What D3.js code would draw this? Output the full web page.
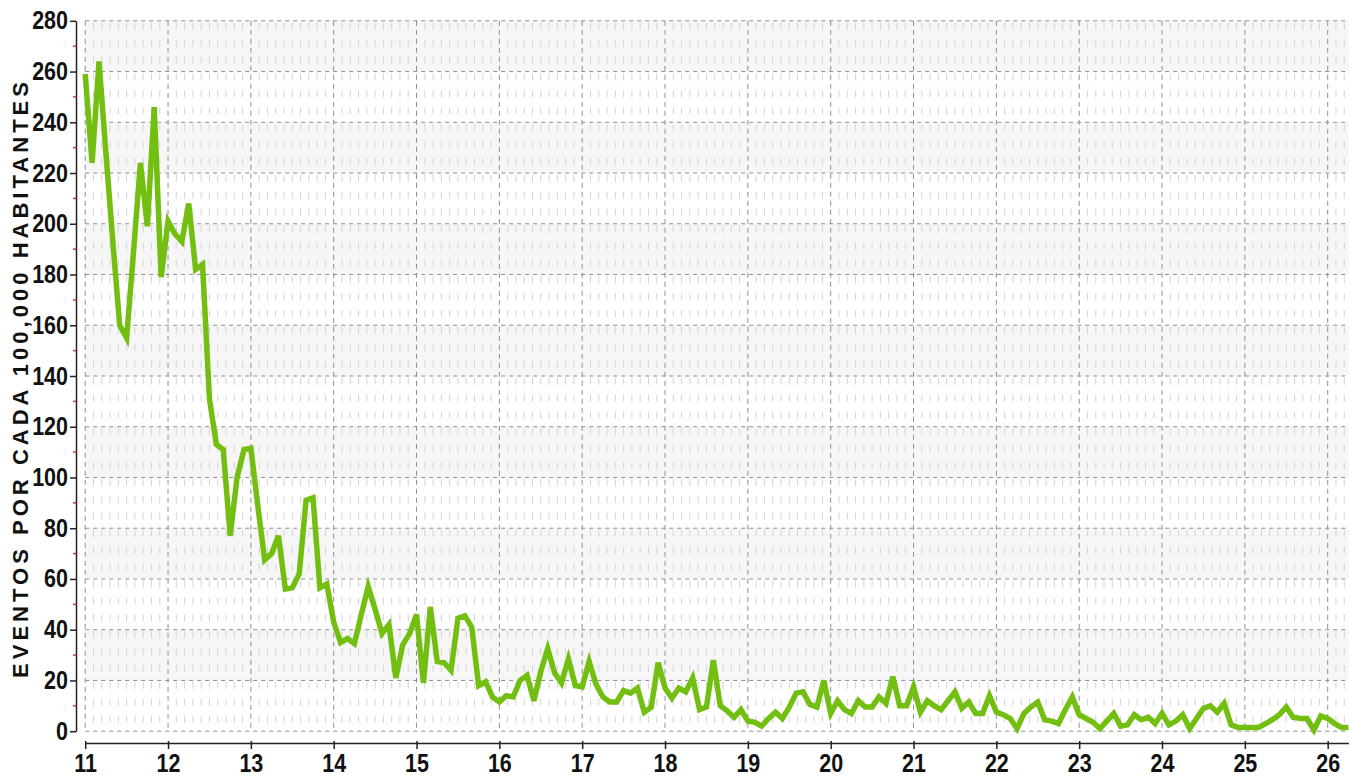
<!DOCTYPE html>
<html>
<head>
<meta charset="utf-8">
<script src="https://cdn.jsdelivr.net/npm/d3@7"></script>
<style>
  body { margin: 0; background: #fff; }
  .tick text { font-family: "Liberation Sans", Arial, sans-serif; font-weight: bold; font-size: 25px; fill: #111; }
</style>
</head>
<body>
<div id="chart"></div>
<script>
// monthly rate, first value = January of year 11
var startYear = 11;
var rates = [
  259, 224, 264, 228, 193, 160, 155, 189, 224, 199, 246, 179,
  201, 196, 193, 208, 182, 184, 131, 113, 111, 77, 100, 111,
  111.5, 89, 67.5, 70, 77, 56, 56.5, 62, 91, 92, 56.5, 58,
  43, 35, 36.5, 34.5, 46, 57, 48, 38.5, 42, 21, 34, 38.5,
  46, 19, 49, 27.5, 27, 24, 44.5, 45.5, 41, 18, 19.5, 13.5,
  11.5, 14, 13.5, 20, 22, 12, 23.5, 32.5, 23, 19, 28.5, 18,
  17.5, 27.5, 18.5, 13.5, 11.5, 11.5, 16, 15, 17, 7.5, 9.5, 27,
  17, 13, 17, 15.5, 21, 8.5, 9.5, 28, 10, 8, 5.5, 8.5,
  4, 3.5, 2, 5, 7.5, 5, 9.5, 15, 15.5, 10.5, 9.5, 20,
  7, 12, 8.5, 7, 12, 9.5, 9.5, 13.5, 11, 21.5, 10, 10,
  17.5, 7.5, 12, 10, 8.5, 12, 15.5, 9, 11.5, 7, 7, 14,
  7.5, 6.5, 5, 1, 7, 9.5, 11.5, 4.5, 4, 3, 8.5, 13.5,
  6.5, 5, 3.5, 1, 4, 7, 2, 2.5, 6.5, 4.5, 5.5, 3,
  7, 2.5, 4, 6.5, 1, 5, 9, 10, 7.5, 11, 2.5, 1.5,
  1.5, 1.5, 1.5, 3, 4.5, 6.5, 9.5, 5.5, 5, 5, 0.5, 6,
  5, 3, 1.5, 1.5
];
var xTicks = [11, 12, 13, 14, 15, 16, 17, 18, 19, 20, 21, 22, 23, 24, 25, 26];
var yTicks = [0, 20, 40, 60, 80, 100, 120, 140, 160, 180, 200, 220, 240, 260, 280];
var yTitle = "EVENTOS POR CADA 100,000 HABITANTES";

var W = 1350, H = 777;
var plotL = 85.2, plotR = 1348.4, plotT = 20.8, plotB = 731.2;
var squeeze = 0.86; // tick labels are a narrow face

var data = rates.map(function(v, i) { return { t: startYear + i / 12, v: v }; });

var x = d3.scaleLinear().domain([11, 26.25]).range([plotL, plotR]);
var y = d3.scaleLinear().domain([0, 280]).range([plotB, plotT]);

var svg = d3.select("#chart").append("svg")
    .attr("width", W)
    .attr("height", H);

// alternating bands
var bands = d3.range(0, 280, 20).filter(function(d) { return (d / 20) % 2 === 1; });
svg.append("g").selectAll("rect")
    .data(bands)
  .enter().append("rect")
    .attr("x", plotL)
    .attr("width", plotR - plotL)
    .attr("y", function(d) { return y(d + 20); })
    .attr("height", function(d) { return y(d) - y(d + 20); })
    .attr("fill", "#f6f6f6");

// minor vertical grid (every 0.1)
var minorX = d3.range(110, 2626).map(function(d) { return d / 10; })
    .filter(function(d) { return Math.round(d * 10) % 10 !== 0; });
svg.append("g").selectAll("line")
    .data(minorX)
  .enter().append("line")
    .attr("x1", function(d) { return x(d); })
    .attr("x2", function(d) { return x(d); })
    .attr("y1", plotT)
    .attr("y2", plotB)
    .attr("stroke", "#d4d4d4")
    .attr("stroke-width", 1)
    .attr("stroke-dasharray", "7,9.9")
    .attr("stroke-dashoffset", -2);

// major grid
svg.append("g").selectAll("line")
    .data(yTicks)
  .enter().append("line")
    .attr("x1", plotL)
    .attr("x2", plotR)
    .attr("y1", function(d) { return y(d); })
    .attr("y2", function(d) { return y(d); })
    .attr("stroke", "#8f8f8f")
    .attr("stroke-width", 1)
    .attr("stroke-dasharray", "4,4");

svg.append("g").selectAll("line")
    .data(xTicks)
  .enter().append("line")
    .attr("x1", function(d) { return x(d); })
    .attr("x2", function(d) { return x(d); })
    .attr("y1", plotT)
    .attr("y2", plotB)
    .attr("stroke", "#8f8f8f")
    .attr("stroke-width", 1)
    .attr("stroke-dasharray", "5,4");

// the line
var valueline = d3.line()
    .x(function(d) { return x(d.t); })
    .y(function(d) { return y(d.v); });

svg.append("path")
    .datum(data)
    .attr("d", valueline)
    .attr("fill", "none")
    .attr("stroke", "#72bf11")
    .attr("stroke-width", 5.5)
    .attr("stroke-linejoin", "miter");

// y axis
var yAxis = svg.append("g")
    .attr("transform", "translate(76,0)")
    .call(d3.axisLeft(y).tickValues(yTicks).tickSize(6).tickSizeOuter(0).tickPadding(3));
yAxis.select(".domain").attr("stroke", "#222").attr("stroke-width", 1.5);
yAxis.selectAll(".tick line").attr("stroke", "#222").attr("stroke-width", 1.5);
yAxis.selectAll(".tick text")
    .attr("x", -8 / squeeze)
    .attr("transform", "scale(" + squeeze + ",1)");

// red minor ticks on y
svg.append("g").selectAll("line")
    .data(d3.range(10, 280, 20))
  .enter().append("line")
    .attr("x1", 73)
    .attr("x2", 76)
    .attr("y1", function(d) { return y(d); })
    .attr("y2", function(d) { return y(d); })
    .attr("stroke", "#e23030")
    .attr("stroke-width", 1.5);

// x axis
var xAxis = svg.append("g")
    .attr("transform", "translate(0,743)")
    .call(d3.axisBottom(x).tickValues(xTicks).tickSize(6).tickSizeOuter(0).tickPadding(5)
      .tickFormat(d3.format("d")));
xAxis.select(".domain").attr("stroke", "#222").attr("stroke-width", 1.5);
xAxis.selectAll(".tick line").attr("stroke", "#222").attr("stroke-width", 1.5).attr("y1", -2);
xAxis.selectAll(".tick text").attr("transform", "scale(" + squeeze + ",1)");

// y title
svg.append("text")
    .attr("transform", "translate(28,380) rotate(-90)")
    .attr("text-anchor", "middle")
    .attr("textLength", 596)
    .attr("lengthAdjust", "spacing")
    .style("font-family", "'Liberation Sans', Arial, sans-serif")
    .style("font-weight", "bold")
    .style("font-size", "22px")
    .style("fill", "#111")
    .text(yTitle);
</script>
</body>
</html>
